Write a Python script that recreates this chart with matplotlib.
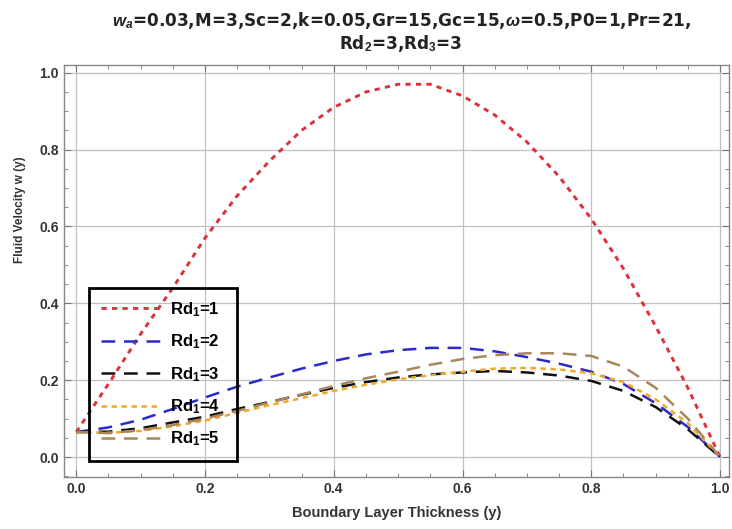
import matplotlib
matplotlib.use("Agg")
import matplotlib.pyplot as plt
import numpy as np
from matplotlib.ticker import MultipleLocator

plt.rcParams['font.family'] = ['Liberation Sans', 'DejaVu Sans']
plt.rcParams['mathtext.fontset'] = 'custom'
plt.rcParams['mathtext.rm'] = 'Liberation Sans:bold'
plt.rcParams['mathtext.bf'] = 'Liberation Sans:bold'
plt.rcParams['mathtext.it'] = 'Liberation Sans:bold:italic'

y_pos = [0.0, 0.05, 0.1, 0.15, 0.2, 0.25, 0.3, 0.35, 0.4, 0.45, 0.5,
         0.55, 0.6, 0.65, 0.7, 0.75, 0.8, 0.85, 0.9, 0.95, 1.0]
w_rd1 = [0.065, 0.19, 0.32, 0.44, 0.57, 0.68, 0.77, 0.85, 0.91, 0.95, 0.97,
         0.97, 0.94, 0.89, 0.82, 0.73, 0.62, 0.49, 0.34, 0.18, 0.0]
w_rd2 = [0.065, 0.077, 0.097, 0.125, 0.155, 0.183, 0.207, 0.23, 0.25, 0.267, 0.278,
         0.284, 0.284, 0.275, 0.26, 0.243, 0.222, 0.19, 0.14, 0.078, 0.0]
w_rd3 = [0.065, 0.066, 0.075, 0.09, 0.105, 0.125, 0.143, 0.162, 0.18, 0.195, 0.207,
         0.215, 0.22, 0.224, 0.22, 0.212, 0.198, 0.172, 0.13, 0.072, 0.0]
w_rd4 = [0.065, 0.063, 0.068, 0.08, 0.095, 0.115, 0.135, 0.153, 0.172, 0.188, 0.202,
         0.213, 0.222, 0.23, 0.232, 0.228, 0.218, 0.195, 0.15, 0.088, 0.0]
w_rd5 = [0.065, 0.062, 0.07, 0.083, 0.1, 0.12, 0.142, 0.163, 0.185, 0.205, 0.222,
         0.24, 0.255, 0.265, 0.27, 0.27, 0.263, 0.235, 0.18, 0.1, 0.0]
labels = [r'Rd$_{\mathbf{1}}$=1', r'Rd$_{\mathbf{1}}$=2', r'Rd$_{\mathbf{1}}$=3',
          r'Rd$_{\mathbf{1}}$=4', r'Rd$_{\mathbf{1}}$=5']

fig = plt.figure(figsize=(7.32, 5.29), dpi=100)
ax = fig.add_axes([0.0874, 0.0983, 0.9086, 0.7787])

series = [w_rd1, w_rd2, w_rd3, w_rd4, w_rd5]
styles = [
    dict(color='#e0303a', linestyle=(0, (1.8, 1.8)), linewidth=2.1),
    dict(color='#2a2ac8', linestyle=(0, (5.5, 3.5)), linewidth=1.8),
    dict(color='#111111', linestyle=(0, (5.5, 3.5)), linewidth=1.8),
    dict(color='#f0a828', linestyle=(0, (2.2, 1.8)), linewidth=1.8),
    dict(color='#a8865e', linestyle=(0, (5.5, 3.5)), linewidth=1.8),
]
for s, lab, st in zip(series, labels, styles):
    ax.plot(y_pos, s, label=lab, **st)

ax.set_xlim(-0.019, 1.014)
ax.set_ylim(-0.052, 1.02)
ax.xaxis.set_major_locator(MultipleLocator(0.2))
ax.xaxis.set_minor_locator(MultipleLocator(0.05))
ax.yaxis.set_major_locator(MultipleLocator(0.2))
ax.yaxis.set_minor_locator(MultipleLocator(0.05))
ax.xaxis.set_major_formatter(plt.FuncFormatter(lambda v, p: f'{v:.1f}'))
ax.yaxis.set_major_formatter(plt.FuncFormatter(lambda v, p: f'{v:.1f}'))
ax.grid(True, which='major', color='#c0c0c0', linewidth=0.9)
ax.tick_params(which='both', direction='in', top=True, right=True, color='#777777')
ax.tick_params(which='major', length=5, width=0.8, labelsize=10)
ax.tick_params(which='minor', length=3, width=0.6)
for lbl in ax.get_xticklabels() + ax.get_yticklabels():
    lbl.set_fontweight('bold')
    lbl.set_color('#333333')
for sp in ax.spines.values():
    sp.set_color('#888888')
    sp.set_linewidth(1.0)

ax.set_xlabel('Boundary Layer Thickness (y)', fontsize=10.5, fontweight='bold', color='#333333', labelpad=7)
ax.set_ylabel('Fluid Velocity w (y)', fontsize=8.5, fontweight='bold', color='#333333')
ax.yaxis.set_label_coords(-0.057, 0.65)

title_font = ['DejaVu Sans', 'Liberation Sans']
fig.text(0.5485, 0.962,
         r'$w_a$=0.03,M=3,Sc=2,k=0.05,Gr=15,Gc=15,$\omega$=0.5,P0=1,Pr=21,',
         ha='center', va='center', fontsize=12.2, fontweight='bold', color='#222222',
         family=title_font)
fig.text(0.548, 0.918, r'Rd$_{\mathbf{2}}$=3,Rd$_{\mathbf{3}}$=3',
         ha='center', va='center', fontsize=12.2, fontweight='bold', color='#222222',
         family=title_font)

leg = ax.legend(loc='lower left', bbox_to_anchor=(0.0376, 0.039, 0.2224, 0.425),
                mode='expand', handlelength=3.6, handletextpad=0.5, labelspacing=0.82,
                borderaxespad=0, fancybox=False, framealpha=0, edgecolor='black',
                prop={'weight': 'bold', 'size': 12}, borderpad=0.75)
leg.get_frame().set_linewidth(2.0)
leg.get_frame().set_facecolor('none')
leg.get_frame().set_edgecolor('black')
leg.get_frame().set_alpha(None)

fig.savefig('out.png', dpi=100)
